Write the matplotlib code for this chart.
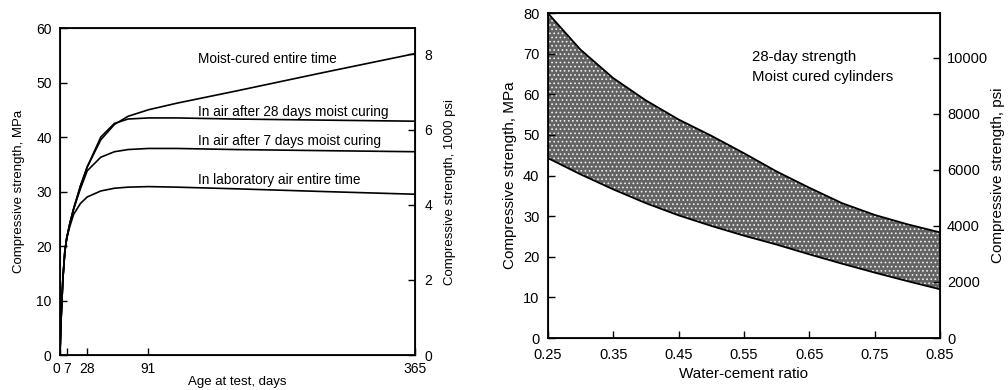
import numpy as np
import matplotlib.pyplot as plt

plt.rcParams['font.family'] = ['Liberation Sans', 'DejaVu Sans']
plt.rcParams['hatch.linewidth'] = 0.7

# left chart: strength gain with age
days = [0, 1, 3, 5, 7, 10, 14, 21, 28, 42, 56, 70, 91, 120, 180, 270, 365]
moist_cured = [0, 6, 14, 19, 21.5, 24, 26.8, 31, 34.5, 39.5, 42.3, 43.8, 45, 46.2, 48.4, 51.8, 55.3]
air_after_28 = [0, 6, 14, 19, 21.5, 24, 26.8, 31, 34.5, 40, 42.5, 43.3, 43.5, 43.5, 43.3, 43.1, 42.9]
air_after_7 = [0, 6, 14, 19, 21.5, 24, 26.8, 30.5, 33.8, 36.3, 37.3, 37.7, 37.9, 37.9, 37.7, 37.5, 37.3]
lab_air = [0, 6, 14, 19, 21.5, 23.5, 25.8, 27.8, 29, 30.1, 30.6, 30.8, 30.9, 30.8, 30.5, 30, 29.5]
curve_labels = ['Moist-cured entire time', 'In air after 28 days moist curing',
                'In air after 7 days moist curing', 'In laboratory air entire time']
label_y = [54.3, 44.6, 39.3, 32.1]
age_ticks = [0, 7, 28, 91, 365]

# right chart: 28-day strength band vs w/c ratio
wc = [0.25, 0.30, 0.35, 0.40, 0.45, 0.50, 0.55, 0.60, 0.65, 0.70, 0.75, 0.80, 0.85]
band_upper = [80, 71, 64, 58.5, 53.8, 49.8, 45.5, 41, 37, 33.2, 30.3, 28, 26]
band_lower = [44.3, 40.3, 36.6, 33.2, 30.2, 27.6, 25.2, 23, 20.6, 18.3, 16.1, 14, 12]
wc_ticks = [0.25, 0.35, 0.45, 0.55, 0.65, 0.75, 0.85]

MPA_PER_KSI = 6.894757

fig = plt.figure(figsize=(10.08, 3.9), dpi=100)

# ---- left ----
ax1 = fig.add_axes([0.0595, 0.0897, 0.3522, 0.8385])
for s in (moist_cured, air_after_28, air_after_7, lab_air):
    ax1.plot(days, s, color='black', lw=1.2)
for txt, yy in zip(curve_labels, label_y):
    ax1.text(142, yy, txt, fontsize=9.8, va='center', ha='left')
ax1.set_xlim(0, 365)
ax1.set_ylim(0, 60)
ax1.set_xticks(age_ticks)
ax1.set_yticks(range(0, 61, 10))
ax1.tick_params(direction='in', length=5, width=1, labelsize=10)
ax1.tick_params(axis='y', pad=6)
ax1.tick_params(axis='x', pad=5)
# keep "0" clear of "7" like the original
ax1.get_xticklabels()[0].set_ha('right')
ax1.set_xlabel('Age at test, days', fontsize=9.5, labelpad=0)
ax1.set_ylabel('Compressive strength, MPa', fontsize=9.5, labelpad=8)
for sp in ax1.spines.values():
    sp.set_linewidth(1.3)

ax1r = ax1.twinx()
ax1r.set_ylim(0, 60 / MPA_PER_KSI)
ax1r.set_yticks([0, 2, 4, 6, 8])
ax1r.tick_params(direction='in', length=5, width=1, labelsize=10, pad=7)
ax1r.set_ylabel('Compressive strength, 1000 psi', fontsize=9.5, labelpad=8)

# ---- right ----
ax2 = fig.add_axes([0.5434, 0.1333, 0.3892, 0.8333])
ax2.fill_between(wc, band_lower, band_upper, facecolor='#636363',
                 edgecolor='#eeeeee', hatch='....', linewidth=0)
ax2.plot(wc, band_upper, color='black', lw=1.3)
ax2.plot(wc, band_lower, color='black', lw=1.3)
ax2.text(0.5625, 69.2, '28-day strength', fontsize=10.8, va='center')
ax2.text(0.5625, 64.2, 'Moist cured cylinders', fontsize=10.8, va='center')
ax2.set_xlim(0.25, 0.85)
ax2.set_ylim(0, 80)
ax2.set_xticks(wc_ticks)
ax2.set_xticklabels([f'{v:.2f}' for v in wc_ticks])
ax2.set_yticks(range(0, 81, 10))
ax2.tick_params(direction='in', length=5, width=1, labelsize=10.5)
ax2.tick_params(axis='x', pad=7)
ax2.tick_params(axis='y', pad=6)
ax2.set_xlabel('Water-cement ratio', fontsize=11, labelpad=4)
ax2.set_ylabel('Compressive strength, MPa', fontsize=11, labelpad=4)
for sp in ax2.spines.values():
    sp.set_linewidth(1.3)

ax2r = ax2.twinx()
ax2r.set_ylim(0, 80 / MPA_PER_KSI * 1000)
ax2r.set_yticks(range(0, 10001, 2000))
ax2r.tick_params(direction='in', length=5, width=1, labelsize=10.5, pad=5)
ax2r.set_ylabel('Compressive strength, psi', fontsize=11, labelpad=2)

fig.savefig('out.png', dpi=100)
